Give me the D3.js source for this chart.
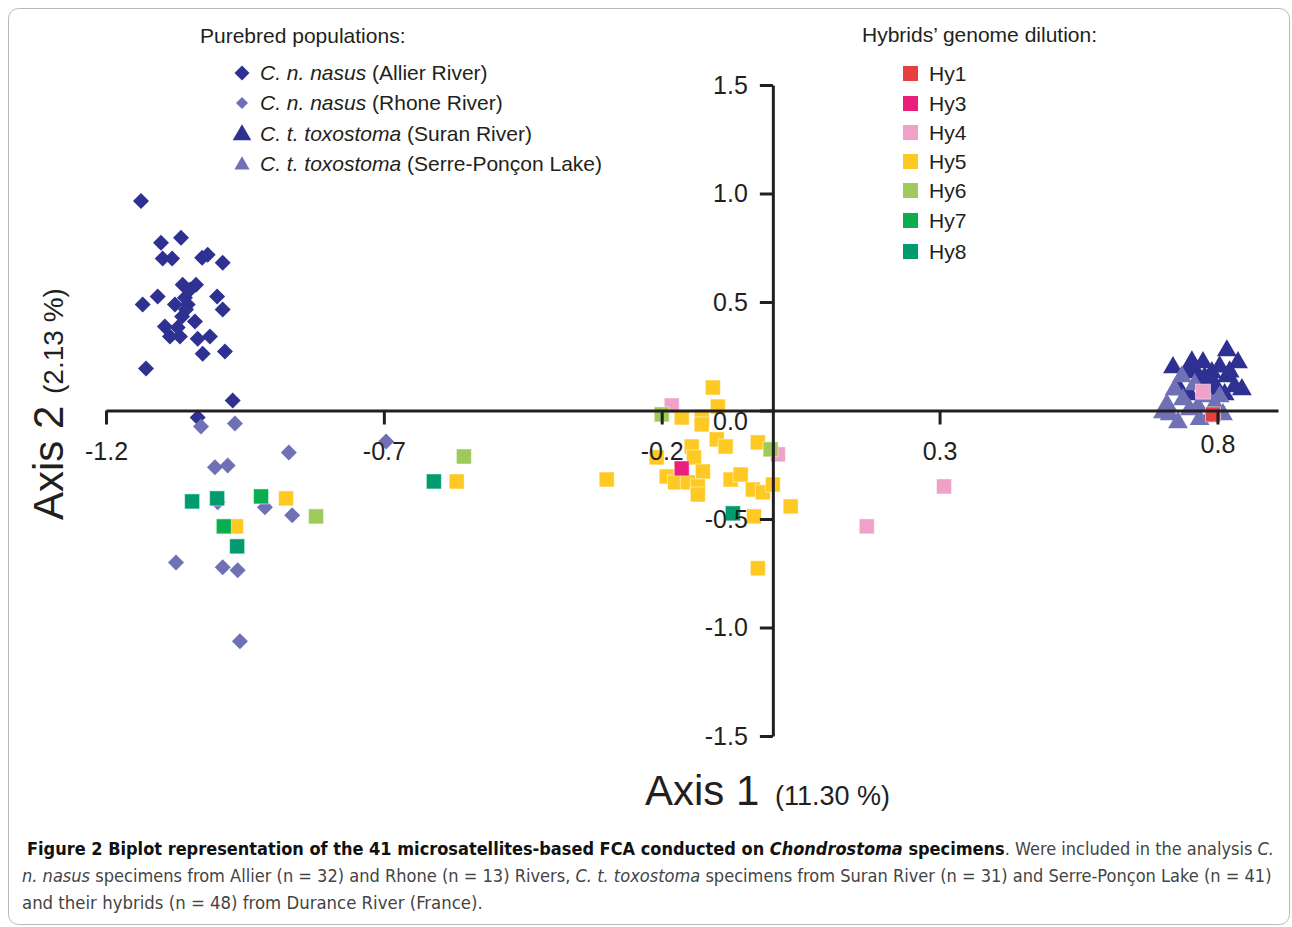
<!DOCTYPE html>
<html>
<head>
<meta charset="utf-8">
<script src="https://cdn.jsdelivr.net/npm/d3@7"></script>
<style>
  body { margin: 0; background: #fff; }
  svg { display: block; }
</style>
</head>
<body>
<svg id="chart" width="1292" height="927"></svg>
<script>
// Purebred populations  [axis1, axis2]
const allierPts = [[-1.137,0.966],[-1.101,0.773],[-1.065,0.796],[-1.098,0.700],[-1.081,0.700],[-1.027,0.704],
  [-1.017,0.718],[-0.990,0.681],[-1.062,0.580],[-1.038,0.580],[-1.107,0.525],[-1.134,0.488],[-1.058,0.520],
  [-1.053,0.488],[-1.000,0.525],[-0.990,0.465],[-1.063,0.433],[-1.040,0.410],[-1.094,0.387],[-1.071,0.382],
  [-1.085,0.341],[-1.067,0.341],[-1.035,0.331],[-1.013,0.341],[-1.026,0.262],[-0.986,0.272],[-1.128,0.193],
  [-0.972,0.046],[-1.035,-0.032],[-1.056,0.465],[-1.076,0.488],[-1.049,0.557]];
const rhonePts = [[-1.029,-0.074],[-0.968,-0.060],[-0.871,-0.193],[-1.004,-0.262],[-0.981,-0.253],[-0.999,-0.423],
  [-0.914,-0.446],[-0.865,-0.483],[-1.074,-0.700],[-0.990,-0.722],[-0.963,-0.736],[-0.959,-1.063],[-0.696,-0.143]];
const suranPts = [[0.817,0.276],[0.754,0.225],[0.774,0.221],[0.720,0.198],[0.804,0.202],[0.837,0.221],[0.745,0.175],
  [0.790,0.175],[0.817,0.156],[0.844,0.097],[0.831,0.110],[0.765,0.143],[0.732,0.097],[0.795,0.120],[0.777,0.152],
  [0.822,0.179],[0.759,0.189],[0.786,0.097],[0.813,0.074],[0.750,0.074]];
const serrePts = [[0.736,0.156],[0.709,0.028],[0.702,-0.009],[0.738,0.051],[0.750,0.005],[0.729,-0.055],[0.786,-0.028],
  [0.804,0.064],[0.810,-0.018],[0.781,0.064],[0.765,0.018],[0.723,0.097],[0.759,0.120],[0.795,0.028],[0.768,-0.041],
  [0.714,-0.018]];

// Hybrids
const hy1Pts = [[0.792,-0.018]];
const hy3Pts = [[-0.164,-0.267]];
const hy4Pts = [[-0.182,0.023],[0.009,-0.202],[0.308,-0.350],[0.169,-0.534],[0.774,0.087]];
const hy5Pts = [[-0.876,-0.405],[-0.966,-0.534],[-0.569,-0.327],[-0.108,0.106],[-0.099,0.018],[-0.164,-0.032],
  [-0.128,-0.028],[-0.128,-0.064],[-0.101,-0.133],[-0.085,-0.166],[-0.027,-0.147],[-0.146,-0.166],[-0.209,-0.216],
  [-0.142,-0.216],[-0.126,-0.281],[-0.191,-0.304],[-0.176,-0.331],[-0.153,-0.331],[-0.135,-0.350],[-0.135,-0.387],
  [-0.299,-0.318],[-0.076,-0.318],[-0.058,-0.295],[-0.036,-0.364],[-0.018,-0.377],[0.000,-0.341],[0.032,-0.442],
  [-0.034,-0.488],[-0.027,-0.727]];
const hy6Pts = [[-0.822,-0.488],[-0.556,-0.212],[-0.200,-0.018],[-0.004,-0.179]];
const hy7Pts = [[-0.921,-0.396],[-0.988,-0.534]];
const hy8Pts = [[-1.045,-0.419],[-1.000,-0.405],[-0.964,-0.626],[-0.610,-0.327],[-0.072,-0.474]];

const xTicks = [-1.2, -0.7, -0.2, 0.3, 0.8];
const yTicks = [1.5, 1.0, 0.5, 0.0, -0.5, -1.0, -1.5];
const hybridNames = ["Hy1","Hy3","Hy4","Hy5","Hy6","Hy7","Hy8"];
const hybridColors = ["#e8403f","#ea1f7b","#f0a1c9","#fec923","#9dca58","#0bae4f","#009b6e"];

const ink = "#231f20";
const darkBlue = "#2e3192";
const lightBlue = "#7070b6";

const svg = d3.select("#chart");

// cadre
svg.append("rect")
    .attr("x", 8.5).attr("y", 8.5).attr("width", 1281).attr("height", 916)
    .attr("rx", 10)
    .attr("fill", "none").attr("stroke", "#b8b8b8").attr("stroke-width", 1);

const x = d3.scaleLinear().domain([-1.2, 0.909]).range([106, 1278]);
const y = d3.scaleLinear().domain([-1.5, 1.5]).range([736, 85]);

// axes
const xAxis = svg.append("g")
    .attr("transform", "translate(0," + y(0) + ")")
    .call(d3.axisBottom(x).tickValues(xTicks).tickSize(14).tickPadding(18).tickSizeOuter(0)
        .tickFormat(d3.format(".1f")));
const yAxis = svg.append("g")
    .attr("transform", "translate(" + x(0) + ",0)")
    .call(d3.axisLeft(y).tickValues(yTicks).tickSize(13).tickPadding(12).tickSizeOuter(0)
        .tickFormat(d3.format(".1f")));

[xAxis, yAxis].forEach(function(ax) {
    ax.select(".domain").attr("stroke", ink).attr("stroke-width", 3);
    ax.selectAll(".tick line").attr("stroke", ink).attr("stroke-width", 3);
    ax.selectAll(".tick text")
        .attr("fill", ink)
        .attr("font-family", "Liberation Sans, Arial, sans-serif")
        .attr("font-size", 25);
});
xAxis.selectAll(".tick text").text(d => d3.format(".1f")(d).replace("\u2212", "-"));
yAxis.selectAll(".tick text").text(d => d3.format(".1f")(d).replace("\u2212", "-"));
// le label 0.0 est décalé vers le bas sous l'axe horizontal
yAxis.selectAll(".tick text").filter(d => d === 0).attr("y", 11);
xAxis.selectAll(".tick text").filter(d => d === 0.8).attr("y", 25);

// titres des axes
const ax1 = svg.append("text")
    .attr("x", 645).attr("y", 805)
    .attr("fill", ink)
    .attr("font-family", "Liberation Sans, Arial, sans-serif");
ax1.append("tspan").attr("font-size", 42).text("Axis 1 ");
ax1.append("tspan").attr("font-size", 27).attr("dx", 4).text("(11.30 %)");

const ax2 = svg.append("text")
    .attr("transform", "translate(63,520) rotate(-90)")
    .attr("fill", ink)
    .attr("font-family", "Liberation Sans, Arial, sans-serif");
ax2.append("tspan").attr("font-size", 42).text("Axis 2 ");
ax2.append("tspan").attr("font-size", 28).attr("dx", 0).text("(2.13 %)");

// points
const diamond = d3.symbol().type(d3.symbolSquare).size(128);
const triangle = d3.symbol().type(d3.symbolTriangle).size(170);

function drawPts(data, shape, color, rot) {
    svg.append("g").selectAll("path")
        .data(data)
        .enter().append("path")
            .attr("d", shape)
            .attr("transform", d => "translate(" + x(d[0]) + "," + y(d[1]) + ")" + (rot ? " rotate(45)" : ""))
            .attr("fill", color);
}
drawPts(suranPts, triangle, darkBlue, false);
drawPts(serrePts, triangle, lightBlue, false);
drawPts(allierPts, diamond, darkBlue, true);
drawPts(rhonePts, diamond, lightBlue, true);

const hybridData = [hy1Pts, hy3Pts, hy4Pts, hy5Pts, hy6Pts, hy7Pts, hy8Pts];
const drawOrder = [2, 3, 0, 1, 4, 5, 6];
drawOrder.forEach(function(k) {
    svg.append("g").selectAll("rect")
        .data(hybridData[k])
        .enter().append("rect")
            .attr("x", d => x(d[0]) - 7.5)
            .attr("y", d => y(d[1]) - 7.5)
            .attr("width", 15).attr("height", 15)
            .attr("fill", hybridColors[k])
            .attr("stroke", "#fff").attr("stroke-opacity", 0.5).attr("stroke-width", 1);
});

// redessine les labels par dessus les points
svg.node().appendChild(yAxis.node());
svg.node().appendChild(xAxis.node());

// légende purebred
const legFont = "Liberation Sans, Arial, sans-serif";
svg.append("text").attr("x", 200).attr("y", 43)
    .attr("font-family", legFont).attr("font-size", 21).attr("fill", ink)
    .text("Purebred populations:");

const pureLegend = [
    {sp: "C. n. nasus", loc: " (Allier River)", color: darkBlue, shape: "d", big: true},
    {sp: "C. n. nasus", loc: " (Rhone River)", color: lightBlue, shape: "d", big: false},
    {sp: "C. t. toxostoma", loc: " (Suran River)", color: darkBlue, shape: "t", big: true},
    {sp: "C. t. toxostoma", loc: " (Serre-Pon\u00e7on Lake)", color: lightBlue, shape: "t", big: false}
];
const pureY = [73, 103, 134, 164];
pureLegend.forEach(function(item, i) {
    let sym;
    if (item.shape === "d") sym = d3.symbol().type(d3.symbolSquare).size(item.big ? 112 : 72);
    else sym = d3.symbol().type(d3.symbolTriangle).size(item.big ? 150 : 100);
    svg.append("path")
        .attr("d", sym)
        .attr("transform", "translate(242," + (pureY[i] + (item.shape === "t" ? 1 : 0)) + ")" + (item.shape === "d" ? " rotate(45)" : ""))
        .attr("fill", item.color);
    const t = svg.append("text").attr("x", 260).attr("y", pureY[i] + 7)
        .attr("font-family", legFont).attr("font-size", 21).attr("fill", ink);
    t.append("tspan").attr("font-style", "italic").text(item.sp);
    t.append("tspan").text(item.loc);
});

// légende hybrides
svg.append("text").attr("x", 862).attr("y", 42)
    .attr("font-family", legFont).attr("font-size", 21).attr("fill", ink)
    .text("Hybrids\u2019 genome dilution:");
const hyY = [73, 103, 132, 161, 190, 220, 251];
hybridNames.forEach(function(name, i) {
    svg.append("rect")
        .attr("x", 903).attr("y", hyY[i] - 7).attr("width", 15).attr("height", 15)
        .attr("fill", hybridColors[i]);
    svg.append("text").attr("x", 929).attr("y", hyY[i] + 8)
        .attr("font-family", legFont).attr("font-size", 21).attr("fill", ink)
        .text(name);
});

// légende de la figure
const capFont = "Liberation Sans Narrow, DejaVu Sans Condensed, Arial Narrow, sans-serif";
const capLines = [
    {y: 855, x: 27, w: 1248, parts: [
        ["Figure 2 Biplot representation of the 41 microsatellites-based FCA conducted on ", "bold", ""],
        ["Chondrostoma", "bold", "italic"],
        [" specimens", "bold", ""],
        [". Were included in the analysis ", "", ""],
        ["C.", "", "italic"]]},
    {y: 882, x: 22, w: 1251, parts: [
        ["n. nasus", "", "italic"],
        [" specimens from Allier (n = 32) and Rhone (n = 13) Rivers, ", "", ""],
        ["C. t. toxostoma", "", "italic"],
        [" specimens from Suran River (n = 31) and Serre-Pon\u00e7on Lake (n = 41)", "", ""]]},
    {y: 909, x: 22, w: 461, parts: [
        ["and their hybrids (n = 48) from Durance River (France).", "", ""]]}
];
capLines.forEach(function(line) {
    const t = svg.append("text").attr("x", 0).attr("y", 0)
        .attr("font-family", capFont).attr("font-size", 18);
    line.parts.forEach(function(p) {
        t.append("tspan")
            .attr("font-weight", p[1] || null)
            .attr("font-style", p[2] || null)
            .attr("fill", p[1] === "bold" ? "#111" : "#444")
            .text(p[0]);
    });
    const w = t.node().getComputedTextLength();
    t.attr("transform", "translate(" + line.x + "," + line.y + ") scale(" + (line.w / w) + ",1)");
});
</script>
</body>
</html>
